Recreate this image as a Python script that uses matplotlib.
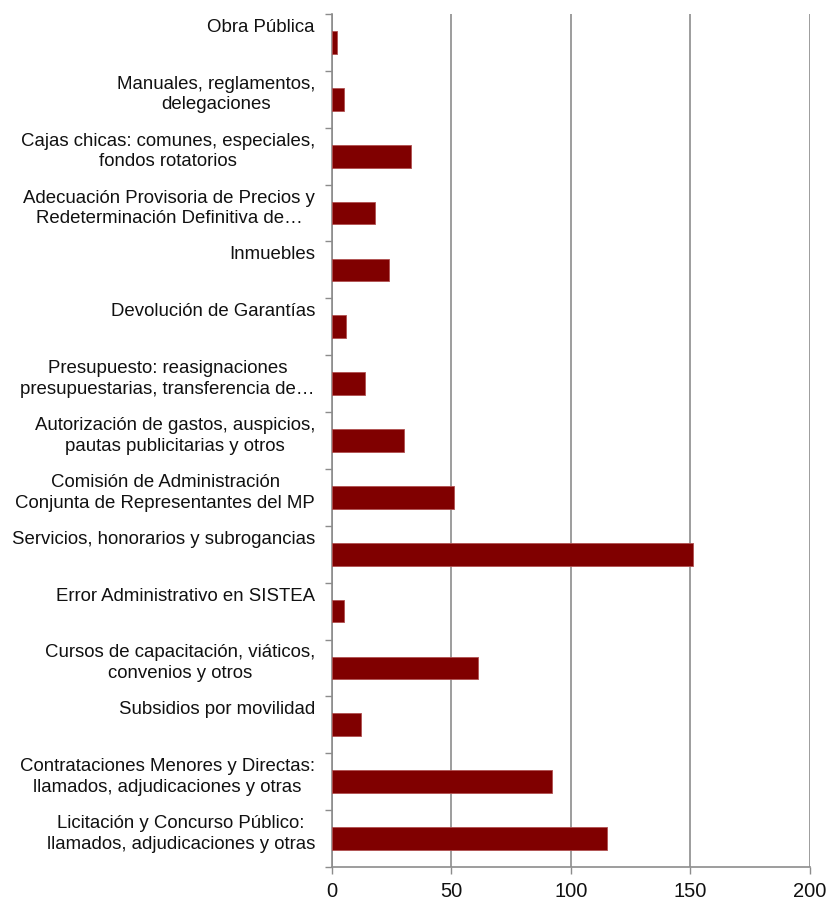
import matplotlib
matplotlib.use("Agg")
import matplotlib.pyplot as plt
import numpy as np

categories = [
    "Obra Pública",
    "Manuales, reglamentos,\ndelegaciones",
    "Cajas chicas: comunes, especiales,\nfondos rotatorios",
    "Adecuación Provisoria de Precios y\nRedeterminación Definitiva de…",
    "Inmuebles",
    "Devolución de Garantías",
    "Presupuesto: reasignaciones\npresupuestarias, transferencia de…",
    "Autorización de gastos, auspicios,\npautas publicitarias y otros",
    "Comisión de Administración\nConjunta de Representantes del MP",
    "Servicios, honorarios y subrogancias",
    "Error Administrativo en SISTEA",
    "Cursos de capacitación, viáticos,\nconvenios y otros",
    "Subsidios por movilidad",
    "Contrataciones Menores y Directas:\nllamados, adjudicaciones y otras",
    "Licitación y Concurso Público:\nllamados, adjudicaciones y otras",
]
values = [2, 5, 33, 18, 24, 6, 14, 30, 51, 151, 5, 61, 12, 92, 115]
x_ticks = [0, 50, 100, 150, 200]

plt.rcParams['font.family'] = ['Liberation Sans', 'DejaVu Sans']

fig = plt.figure(figsize=(8.29, 9.04), dpi=100)
ax = fig.add_axes([332/829, 1 - 868/904, (810 - 332)/829, (868 - 15)/904])

y = np.arange(len(categories))
ax.barh(y, values, height=0.4, color='#800000', edgecolor='#b05050', linewidth=0.6, zorder=3)

ax.set_xlim(0, 200)
ax.set_ylim(len(categories) - 0.5, -0.5)

ax.set_xticks(x_ticks)
ax.set_xticklabels([str(t) for t in x_ticks], fontsize=14.5)
ax.tick_params(axis='x', length=5, width=1, color='#8c8c8c', pad=5, labelcolor='#111111')
ax.xaxis.grid(True, color='#8c8c8c', linewidth=1.2, zorder=0)

ax.set_yticks([])
ax.set_yticks(np.arange(len(categories) + 1) - 0.5, minor=True)
ax.tick_params(axis='y', which='minor', length=5, width=1, color='#8c8c8c')
ax.tick_params(axis='y', which='major', length=0)

for s in ['top', 'right']:
    ax.spines[s].set_visible(False)
for s in ['left', 'bottom']:
    ax.spines[s].set_color('#8c8c8c')
    ax.spines[s].set_linewidth(1.2)

for i, lab in enumerate(categories):
    ax.annotate(lab, xy=(0, i), xycoords='data',
                xytext=(-17 * 0.72, 24.5 * 0.72), textcoords='offset points',
                ha='right', va='top', multialignment='center',
                fontsize=13.4, color='#111111', linespacing=1.28,
                annotation_clip=False)

fig.savefig("out.png", dpi=100)
